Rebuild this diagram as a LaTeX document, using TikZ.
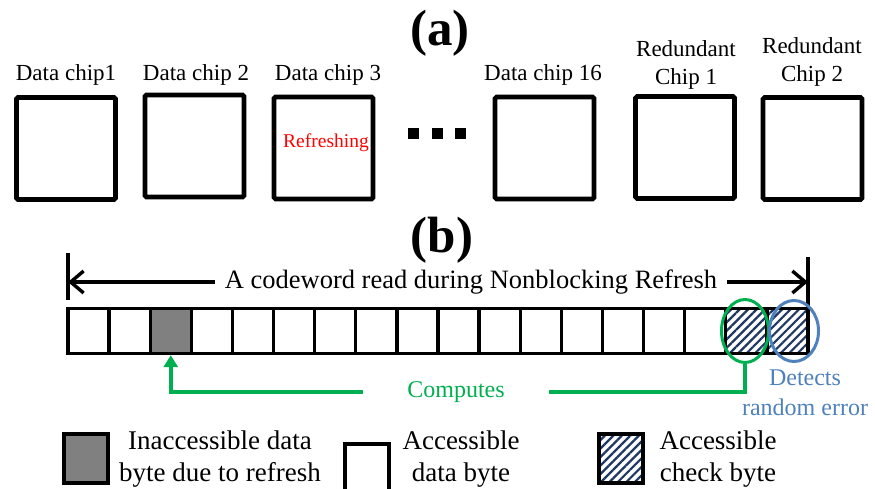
\documentclass[tikz,border=0pt]{standalone}
\usepackage{fontspec}
\setmainfont{Liberation Serif}
\usetikzlibrary{arrows.meta,patterns.meta,shapes.geometric}
\definecolor{cgreen}{RGB}{0,176,80}
\definecolor{cblue}{RGB}{79,129,189}
\definecolor{cnavy}{RGB}{31,56,100}
\definecolor{cgray}{RGB}{128,128,128}
\definecolor{cred}{RGB}{255,0,0}
\begin{document}
\begin{tikzpicture}[x=1pt,y=-1pt,
  chip/.style={draw, line width=4.6pt, rounded corners=1.5pt, minimum width=99pt, minimum height=102pt, inner sep=0pt},
  chiplabel/.style={font=\fontsize{23}{28}\selectfont, align=center, inner sep=0pt},
  title/.style={font=\bfseries\fontsize{51}{51}\selectfont, inner sep=0pt},
  dotsq/.style={fill=black, minimum size=11pt, inner sep=0pt},
  cell/.style={draw, line width=3.4pt, minimum width=41.11pt, minimum height=45pt, inner sep=0pt, fill=white},
  graycell/.style={cell, fill=cgray},
  hatchcell/.style={cell, preaction={fill=white}, pattern={Lines[angle=45,distance=6pt,line width=2.2pt]}, pattern color=cnavy},
  bar/.style={line width=3.4pt},
  dimarrow/.style={line width=3.4pt, -{Straight Barb[length=13pt,width=22pt,line width=3.4pt]}},
  gline/.style={draw=cgreen, line width=4pt},
  legtext/.style={font=\fontsize{27}{32}\selectfont, align=center, inner sep=0pt},
  legbox/.style={draw, line width=4.6pt, minimum width=44pt, minimum height=49pt, inner sep=0pt}
]
\useasboundingbox (0,0) rectangle (875,489);

% (a) chips
\node[title] (ta) at (440,33) {(a)};
\node[chip] (c1) at (66,148.5) {};
\node[chip] (c2) at (194.5,146) {};
\node[chip] (c3) at (323.5,148) {};
\node[chip] (c16) at (544.5,148) {};
\node[chip] (r1) at (685,147.5) {};
\node[chip] (r2) at (812.5,148.5) {};
\node[font=\fontsize{19.5}{22}\selectfont, text=cred, inner sep=0pt] (rf) at (326,143) {Refreshing};

\node[chiplabel, anchor=base] (l1) at (66,81) {Data chip1};
\node[chiplabel, anchor=base] (l2) at (196,81) {Data chip 2};
\node[chiplabel, anchor=base] (l3) at (328,81) {Data chip 3};
\node[chiplabel, anchor=base] (l16) at (543,81) {Data chip 16};
\node[chiplabel, anchor=south] (lr1) at (686,90) {Redundant\\Chip 1};
\node[chiplabel, anchor=south] (lr2) at (812,87) {Redundant\\Chip 2};

\node[dotsq] (d1) at (413,134) {};
\node[dotsq] (d2) at (437,134) {};
\node[dotsq] (d3) at (460,134) {};

% (b) codeword
\node[title] (tb) at (442,240) {(b)};

\foreach \i/\s in {1/cell,2/cell,3/graycell,4/cell,5/cell,6/cell,7/cell,8/cell,9/cell,10/cell,11/cell,12/cell,13/cell,14/cell,15/cell,16/cell,17/hatchcell,18/hatchcell}
  \node[\s] (b\i) at ({68+41.11*(\i-0.5)},331) {};

\coordinate (lt) at (68,253);
\coordinate (lb) at (68,300);
\coordinate (rt) at (808,257);
\coordinate (rb) at (808,307);
\coordinate (la) at (68,282);
\coordinate (ra) at (808,282);
\draw[bar] (lt) -- (lb);
\draw[bar] (rt) -- (rb);
\node[font=\fontsize{26.5}{30}\selectfont, inner xsep=10pt, inner ysep=0pt] (cw) at (471,282) {A codeword read during Nonblocking Refresh};
\draw[dimarrow] (cw.west) -- (la);
\draw[dimarrow] (cw.east) -- (ra);

\node[ellipse, draw=cgreen, line width=3pt, minimum width=47pt, minimum height=63pt, inner sep=0pt] (ge) at (745,331) {};
\node[ellipse, draw=cblue, line width=3pt, minimum width=49pt, minimum height=61pt, inner sep=0pt] (be) at (794,331) {};

\node[font=\fontsize{24}{28}\selectfont, text=cgreen, fill=white, inner xsep=44pt, inner ysep=2pt] (comp) at (456,392) {Computes};
\draw[gline] (ge.south) |- (comp.east);
\draw[gline, -{Triangle[width=14pt,length=12pt]}] (comp.west) -| (b3.south);

\node[font=\fontsize{24}{30}\selectfont, text=cblue, align=center, inner sep=0pt] (det) at (805,393) {Detects\\random error};

% legend
\node[legbox, fill=cgray] (lg) at (86,458.5) {};
\node[legtext] (tg) at (220,459) {Inaccessible data\\byte due to refresh};
\node[legbox, minimum height=52pt] (lw) at (367,470) {};
\node[legtext] (tw) at (461,459) {Accessible\\data byte};
\node[legbox, preaction={fill=white}, pattern={Lines[angle=45,distance=6pt,line width=2.2pt]}, pattern color=cnavy] (lh) at (621,458.5) {};
\node[legtext] (th) at (718,459) {Accessible\\check byte};
\end{tikzpicture}
\end{document}
